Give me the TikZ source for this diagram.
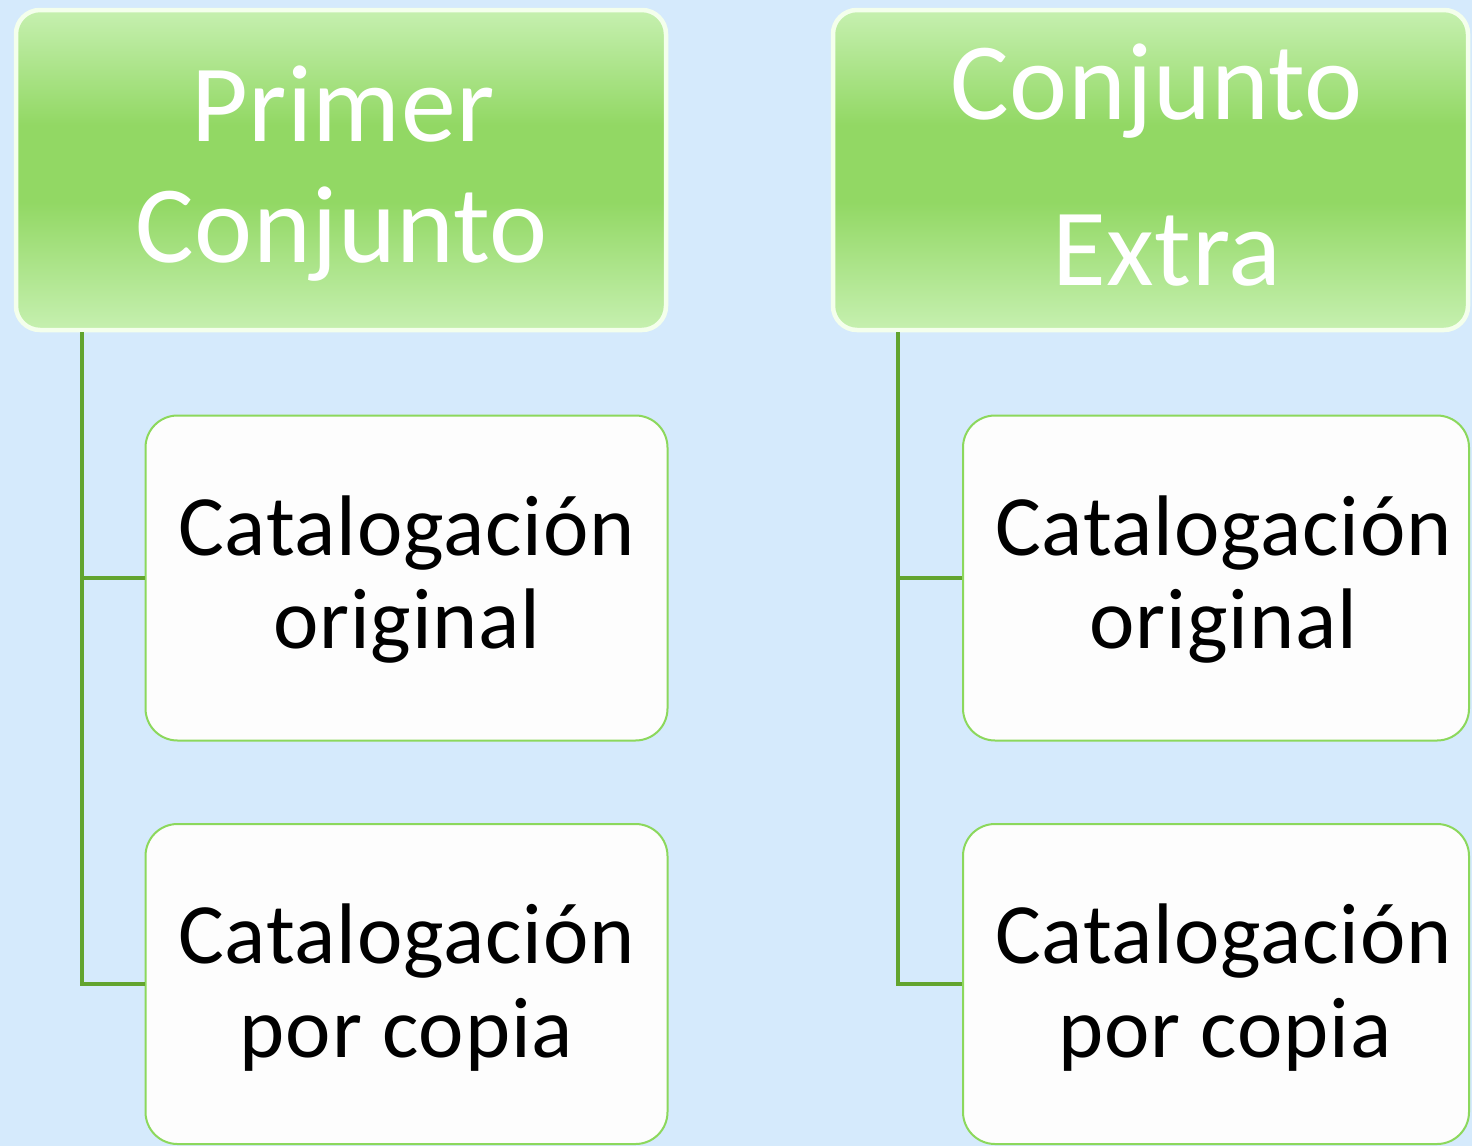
\documentclass[tikz,border=0pt]{standalone}
\usepackage{fontspec}
\setmainfont{Carlito}
\definecolor{bgblue}{HTML}{D5EAFC}
\definecolor{headlight}{HTML}{C6F0B0}
\definecolor{headmid}{HTML}{92D864}
\definecolor{headrim}{HTML}{F4FFEC}
\definecolor{childborder}{HTML}{8CD85C}
\definecolor{childfill}{HTML}{FDFDFD}
\definecolor{conngreen}{HTML}{62A42E}
\pgfdeclareverticalshading{headshade}{100bp}{color(0bp)=(headlight); color(25bp)=(headlight); color(45bp)=(headmid); color(57bp)=(headmid); color(75bp)=(headlight); color(100bp)=(headlight)}
\begin{document}
\begin{tikzpicture}[x=1pt,y=-1pt,
  head/.style={rectangle, rounded corners=24pt, draw=headrim, line width=4.5pt,
    shading=headshade, inner sep=0pt, minimum height=320pt},
  headtext/.style={anchor=base, inner sep=0pt, text=white,
    font=\fontsize{110}{121}\selectfont\addfontfeatures{LetterSpace=0.4}},
  child/.style={rectangle, rounded corners=32pt, draw=childborder, line width=2pt,
    fill=childfill, inner sep=0pt, minimum height=325pt},
  childtext/.style={anchor=base, inner sep=0pt, text=black,
    font=\fontsize{86}{93}\selectfont\addfontfeatures{LetterSpace=1.0}},
  conn/.style={draw=conngreen, line width=3.5pt}]
\useasboundingbox (0,0) rectangle (1472,1146);
\fill[bgblue] (0,0) rectangle (1472,1146);
\clip (0,0) rectangle (1472,1146);

% header boxes
\node[head, minimum width=650pt] (h1) at (341,170) {};
\node[head, minimum width=635pt] (h2) at (1150.5,170) {};

% child boxes
\node[child, minimum width=522pt] (c1) at (406.5,578) {};
\node[child, minimum width=522pt, minimum height=320pt] (c2) at (406.5,984) {};
\node[child, minimum width=506pt] (c3) at (1216,578) {};
\node[child, minimum width=506pt, minimum height=320pt] (c4) at (1216,984) {};

% connectors
\draw[conn] ([xshift=68pt]h1.south west) |- (c1.west);
\draw[conn] ([xshift=68pt]h1.south west) |- (c2.west);
\draw[conn] ([xshift=67pt]h2.south west) |- (c3.west);
\draw[conn] ([xshift=67pt]h2.south west) |- (c4.west);

% texts
\node[headtext] (h1a) at (343,141) {Primer};
\node[headtext] (h1b) at (342,262) {Conjunto};
\node[headtext] (h2a) at (1157,119) {Conjunto};
\node[headtext] (h2b) at (1167,285) {Extra};

\node[childtext] (c1a) at (406.5,555) {Catalogación};
\node[childtext] (c1b) at (407,648) {original};
\node[childtext] (c2a) at (406.5,963) {Catalogación};
\node[childtext] (c2b) at (406.5,1057) {por copia};
\node[childtext] (c3a) at (1223.5,555) {Catalogación};
\node[childtext] (c3b) at (1223.5,648) {original};
\node[childtext] (c4a) at (1223.5,963) {Catalogación};
\node[childtext] (c4b) at (1225,1057) {por copia};
\end{tikzpicture}
\end{document}
